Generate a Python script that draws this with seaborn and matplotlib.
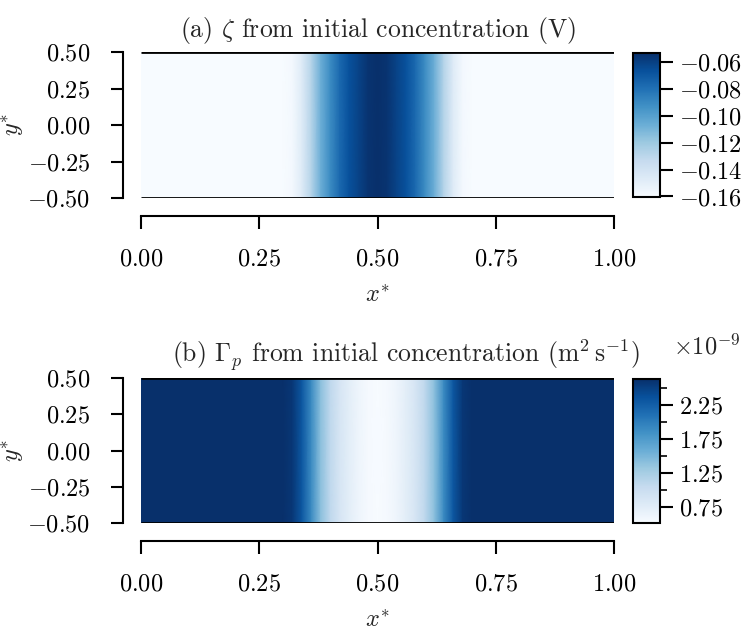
import numpy as np
import matplotlib
matplotlib.use("Agg")
import matplotlib.pyplot as plt
import seaborn as sns
from matplotlib.ticker import FixedLocator

# ---- data (fields are uniform along y*) ----
x_star = [0.0, 0.30, 0.32, 0.34, 0.36, 0.38, 0.40, 0.42, 0.44, 0.46, 0.48, 0.50,
          0.52, 0.54, 0.56, 0.58, 0.60, 0.62, 0.64, 0.66, 0.68, 0.70, 1.0]
y_star = [-0.5, 0.5]
zeta_V = [-0.1604, -0.1604, -0.158, -0.147, -0.128, -0.107, -0.091, -0.077, -0.067,
          -0.061, -0.055, -0.0533, -0.055, -0.061, -0.067, -0.077, -0.091, -0.107,
          -0.128, -0.147, -0.158, -0.1604, -0.1604]
gamma_p = [2.63e-9, 2.63e-9, 2.566e-9, 2.31e-9, 1.89e-9, 1.40e-9, 1.086e-9, 0.875e-9,
           0.73e-9, 0.62e-9, 0.547e-9, 0.515e-9, 0.547e-9, 0.62e-9, 0.73e-9, 0.875e-9,
           1.086e-9, 1.40e-9, 1.89e-9, 2.31e-9, 2.566e-9, 2.63e-9, 2.63e-9]
x_ticks = [0.0, 0.25, 0.5, 0.75, 1.0]
y_ticks = [-0.5, -0.25, 0.0, 0.25, 0.5]
zeta_cb_ticks = [-0.16, -0.14, -0.12, -0.10, -0.08, -0.06]
gamma_cb_ticks = [0.75e-9, 1.25e-9, 1.75e-9, 2.25e-9]
gamma_cb_minor = [1.0e-9, 1.5e-9, 2.0e-9, 2.5e-9]
titles = [r"(a) $\zeta$ from initial concentration (V)",
          r"(b) $\Gamma_p$ from initial concentration $(\mathrm{m^2\,s^{-1}})$"]
gamma_scale_label = r"$\times10^{-9}$"


def lab(v):
    return "$\\mathdefault{%.2f}$" % v


sns.set_theme(style="ticks")
FS = 17.5
plt.rcParams.update({
    "font.family": "cmr10",
    "mathtext.fontset": "cm",
    "axes.formatter.use_mathtext": True,
    "axes.unicode_minus": True,
    "font.size": FS,
    "axes.linewidth": 1.5,
    "xtick.major.width": 1.5,
    "ytick.major.width": 1.5,
    "xtick.major.size": 9,
    "ytick.major.size": 9,
    "xtick.major.pad": 14.5,
    "ytick.major.pad": 14.5,
    "ytick.minor.width": 1.2,
    "ytick.minor.size": 5,
    "xtick.labelsize": FS,
    "ytick.labelsize": FS,
    "axes.labelsize": FS,
    "axes.titlesize": 18.5,
    "axes.edgecolor": "black",
    "xtick.color": "black",
    "ytick.color": "black",
})

cmap = sns.color_palette("Blues", as_cmap=True)
W, H = 743, 631
fig = plt.figure(figsize=(W / 100, H / 100), dpi=100)


def px_axes(x0, y0, x1, y1):
    return fig.add_axes([x0 / W, 1 - y1 / H, (x1 - x0) / W, (y1 - y0) / H])


ax_a = px_axes(141, 52, 614, 198)
cax_a = px_axes(633, 53, 660, 197)
ax_b = px_axes(141, 378, 614, 523)
cax_b = px_axes(633, 379, 660, 523)

X, Y = np.meshgrid(x_star, y_star)
fields = [np.vstack([zeta_V, zeta_V]), np.vstack([gamma_p, gamma_p])]

for ax, cax, Z, title in zip([ax_a, ax_b], [cax_a, cax_b], fields, titles):
    mesh = ax.pcolormesh(X, Y, Z, shading="gouraud", cmap=cmap, rasterized=True)
    ax.hlines(y_star, min(x_star), max(x_star), colors="black", linewidth=2.0, zorder=3)
    ax.set_xlim(min(x_star), max(x_star))
    ax.set_ylim(min(y_star), max(y_star))
    ax.set_xticks(x_ticks)
    ax.set_yticks(y_ticks)
    ax.set_xticklabels([lab(v) for v in x_ticks])
    ax.set_yticklabels([lab(v) for v in y_ticks])
    ax.set_xlabel(r"$x^{*}$", labelpad=10)
    ax.set_ylabel(r"$y^{*}$", labelpad=1)
    if ax is ax_a:
        ax.set_title(title, pad=11)
    else:
        ax.set_title(title, pad=11, x=0.0655, horizontalalignment="left")
    sns.despine(ax=ax, offset=13)
    cb = fig.colorbar(mesh, cax=cax)
    cb.outline.set_linewidth(1.5)
    cb.outline.set_edgecolor("black")
    cax.tick_params(which="major", length=9, width=1.5, labelsize=FS, pad=5)
    if ax is ax_a:
        cb.set_ticks(zeta_cb_ticks)
        cb.set_ticklabels([lab(v) for v in zeta_cb_ticks])
    else:
        cb.set_ticks(gamma_cb_ticks)
        cb.set_ticklabels([lab(v * 1e9) for v in gamma_cb_ticks])
        cax.yaxis.set_minor_locator(FixedLocator(gamma_cb_minor))
        cax.tick_params(which="minor", length=5, width=1.2)

fig.text(740 / W, 1 - 354 / H, gamma_scale_label, ha="right", va="baseline", fontsize=FS)
fig.savefig("out.png", dpi=100)
